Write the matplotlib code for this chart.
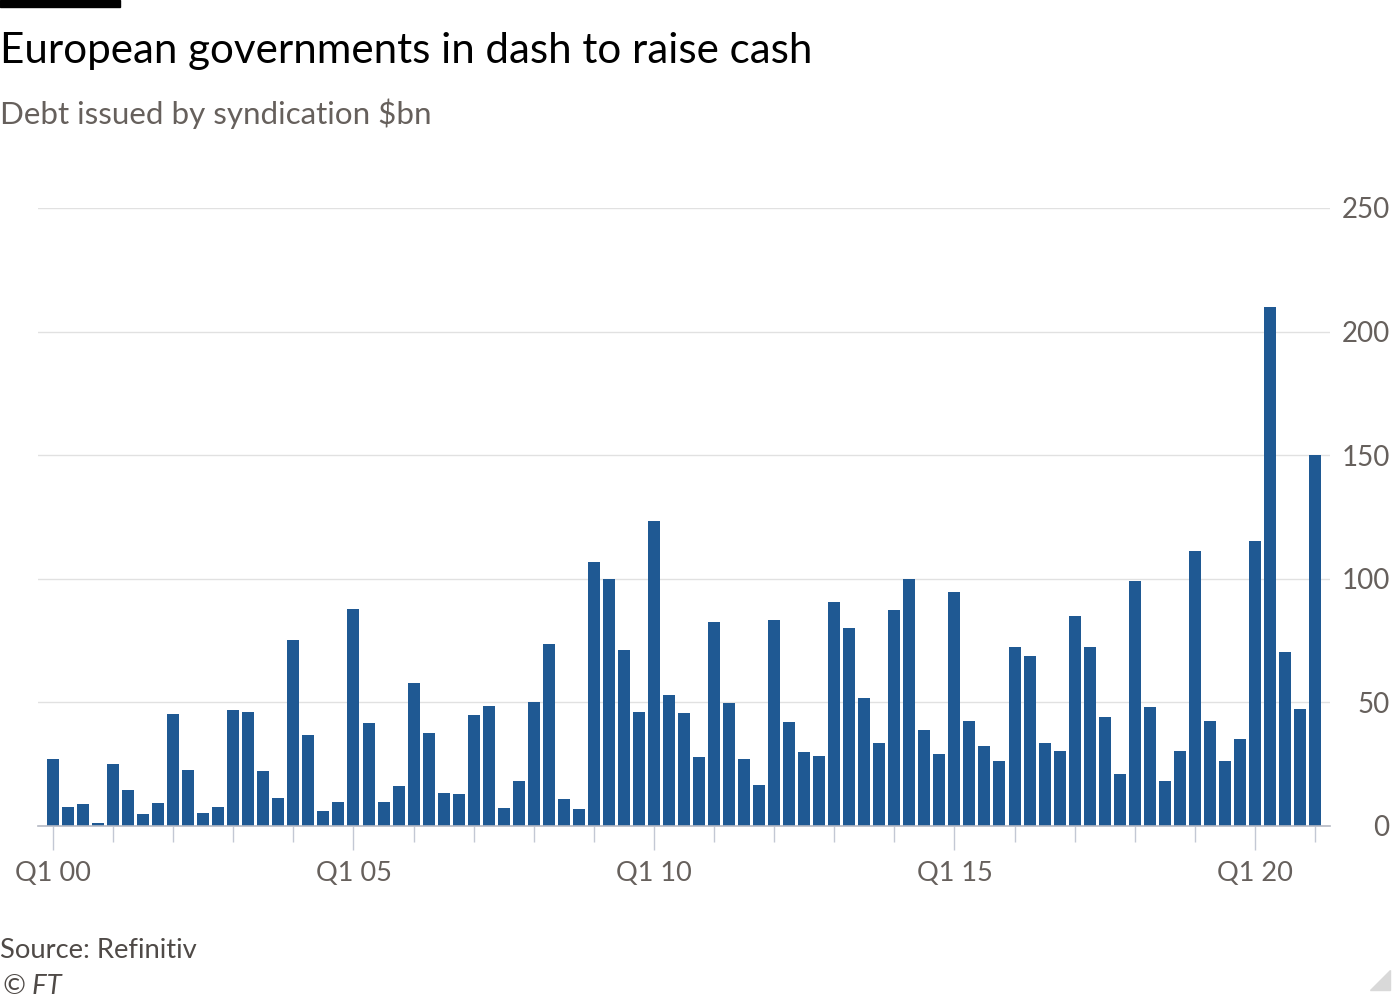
import matplotlib
matplotlib.use('Agg')
import matplotlib.pyplot as plt
import numpy as np

plt.rcParams['font.family'] = ['Lato', 'DejaVu Sans']

# Quarterly syndicated debt issuance, $bn, Q1 2000 - Q1 2021
quarters = [f'Q{q} {y:02d}' for y in range(0, 21) for q in range(1, 5)] + ['Q1 21']
values = [
    27.1, 7.5, 8.7, 1.4,      # 2000
    25.0, 14.6, 4.7, 9.5,     # 2001
    45.2, 22.5, 5.4, 7.5,     # 2002
    46.9, 46.0, 22.1, 11.2,   # 2003
    75.2, 36.8, 6.2, 9.8,     # 2004
    87.7, 41.8, 9.7, 16.3,    # 2005
    57.7, 37.7, 13.4, 13.1,   # 2006
    44.9, 48.6, 7.4, 18.3,    # 2007
    50.0, 73.5, 11.0, 6.8,    # 2008
    106.7, 100.1, 71.3, 46.2, # 2009
    123.5, 52.8, 45.8, 27.9,  # 2010
    82.6, 49.6, 27.1, 16.7,   # 2011
    83.2, 41.9, 30.1, 28.5,   # 2012
    90.7, 80.2, 51.8, 33.6,   # 2013
    87.5, 100.1, 38.7, 29.2,  # 2014
    94.8, 42.6, 32.5, 26.3,   # 2015
    72.3, 68.9, 33.7, 30.5,   # 2016
    85.1, 72.5, 44.1, 21.2,   # 2017
    99.3, 48.2, 18.3, 30.2,   # 2018
    111.3, 42.4, 26.1, 35.3,  # 2019
    115.1, 210.0, 70.2, 47.5, # 2020
    149.9,                    # 2021
]
y_ticks = [0, 50, 100, 150, 200, 250]
label_every = 20   # one label every five years
minor_every = 4    # small tick each Q1

bar_color = '#1f5993'
grey = '#66605c'

fig = plt.figure(figsize=(14, 10), dpi=100)
ax = fig.add_axes([38 / 1400, 0.174, (1330 - 38) / 1400, 0.618])

x = np.arange(len(values))
ax.bar(x, values, width=0.8, color=bar_color, zorder=3)

ax.set_ylim(0, 250)
ax.set_xlim(-1, len(values))

# y axis on the right, grid lines only
ax.yaxis.tick_right()
ax.set_yticks(y_ticks)
ax.set_yticklabels([str(t) for t in y_ticks])
ax.tick_params(axis='y', length=0, pad=43, labelsize=20, labelcolor=grey)
for lab in ax.get_yticklabels():
    lab.set_horizontalalignment('right')
ax.grid(axis='y', color='#e1e1e1', linewidth=1, zorder=0)

# x ticks: long on Q1 every five years, short on each Q1
ax.set_xticks(x[::label_every])
ax.set_xticklabels([quarters[i] for i in x[::label_every]])
ax.set_xticks(x[::minor_every], minor=True)
ax.tick_params(axis='x', which='major', length=17, width=1, color='#c3c8d4',
               pad=8, labelsize=19.5, labelcolor=grey)
ax.tick_params(axis='x', which='minor', length=11.5, width=1, color='#c3c8d4')

for side in ['top', 'right', 'left']:
    ax.spines[side].set_visible(False)
ax.spines['bottom'].set_color('#b5b9c4')
ax.spines['bottom'].set_linewidth(1.2)
ax.spines['bottom'].set_zorder(4)

# titles and footer
fig.text(0.0, 0.949, 'European governments in dash to raise cash',
         fontsize=30.3, color='#000000', va='center', ha='left')
fig.text(0.0, 0.886, 'Debt issued by syndication $bn',
         fontsize=22.6, color=grey, va='center', ha='left')
fig.text(0.0, 0.050, 'Source: Refinitiv', fontsize=19.7, color='#4f4a47',
         va='center', ha='left')
fig.text(0.002, 0.014, '© FT', fontsize=19.7, color='#4f4a47', style='italic',
         va='center', ha='left')

# black strip top-left and the little corner triangle
fig.add_artist(plt.Rectangle((0, 0.993), 120 / 1400, 0.007,
                             transform=fig.transFigure, color='#000000'))
fig.add_artist(plt.Polygon([(1390 / 1400, 0.030), (1390 / 1400, 0.010),
                            (1370 / 1400, 0.010)],
                           transform=fig.transFigure, color='#d9d9d9'))

fig.savefig('out.png', dpi=100, facecolor='white')
